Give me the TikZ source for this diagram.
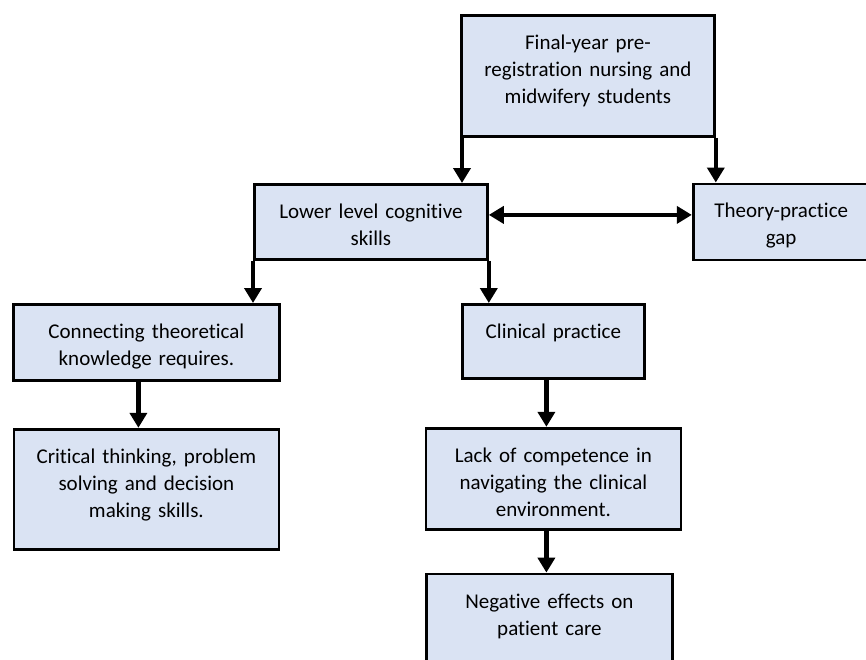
\documentclass[tikz,border=0pt]{standalone}
\usepackage{fontspec}
\setmainfont{Carlito}[Ligatures=NoCommon]
\usepackage{tikz}
\usetikzlibrary{arrows.meta,positioning}
\definecolor{BoxBlue}{HTML}{DAE3F3}
\definecolor{BoxEdge}{HTML}{000000}
\tikzset{
  flowbox/.style={draw=BoxEdge,line width=2.8pt,fill=BoxBlue,align=center,inner xsep=0pt,inner ysep=0pt,text height=34pt,font=\fontsize{21}{27}\selectfont},
  flowarrow/.style={-{Triangle[length=15pt,width=17pt]},line width=4.5pt},
  linkarrow/.style={{Triangle[length=15pt,width=17pt]}-{Triangle[length=15pt,width=17pt]},line width=4.5pt}
}
\begin{document}
\begin{tikzpicture}[x=1pt,y=-1pt]
\useasboundingbox (0,0) rectangle (866,659);
\clip (0,0) rectangle (866,659);
\node[flowbox,anchor=north west,text width=253pt,text depth=87pt] (final) at (460,14) {Final-year pre-\\registration nursing and\\midwifery students};
\node[flowbox,anchor=north west,text width=233pt,text depth=41pt] (lower) at (253,183) {Lower level cognitive\\skills};
\node[flowbox,right=203pt of lower,text width=176pt,text depth=42pt] (gap) {Theory-practice\\gap};
\node[flowbox,anchor=north west,text width=266pt,text depth=42pt] (connect) at (12,303) {Connecting theoretical\\knowledge requires.};
\node[flowbox,below=46pt of connect,text width=265pt,text depth=86pt] (critical) {Critical thinking, problem\\solving and decision\\making skills.};
\node[flowbox,anchor=north west,text width=182pt,text depth=40pt] (clinical) at (461,303) {Clinical practice};
\node[flowbox,below=47pt of clinical,text width=255pt,text depth=67pt] (lack) {Lack of competence in\\navigating the clinical\\environment.};
\node[flowbox,below=42pt of lack,xshift=-4pt,text width=246pt,text depth=120pt] (negative) {Negative effects on\\patient care};
% connectors
\draw[flowarrow] ([xshift=2pt]final.south west) -- ([xshift=2pt]final.south west |- lower.north);
\draw[flowarrow] (final.south east) -- (final.south east |- gap.north);
\draw[linkarrow] ([yshift=7pt]lower.east) -- ([yshift=7pt]lower.east -| gap.west);
\draw[flowarrow] (lower.south west) -- (lower.south west |- connect.north);
\draw[flowarrow] (lower.south east) -- (lower.south east |- clinical.north);
\draw[flowarrow] ([xshift=-8pt]connect.south) -- ([xshift=-8pt]connect.south |- critical.north);
\draw[flowarrow] ([xshift=-7pt]clinical.south) -- ([xshift=-7pt]clinical.south |- lack.north);
\draw[flowarrow] ([xshift=-7pt]lack.south) -- ([xshift=-7pt]lack.south |- negative.north);
\end{tikzpicture}
\end{document}
